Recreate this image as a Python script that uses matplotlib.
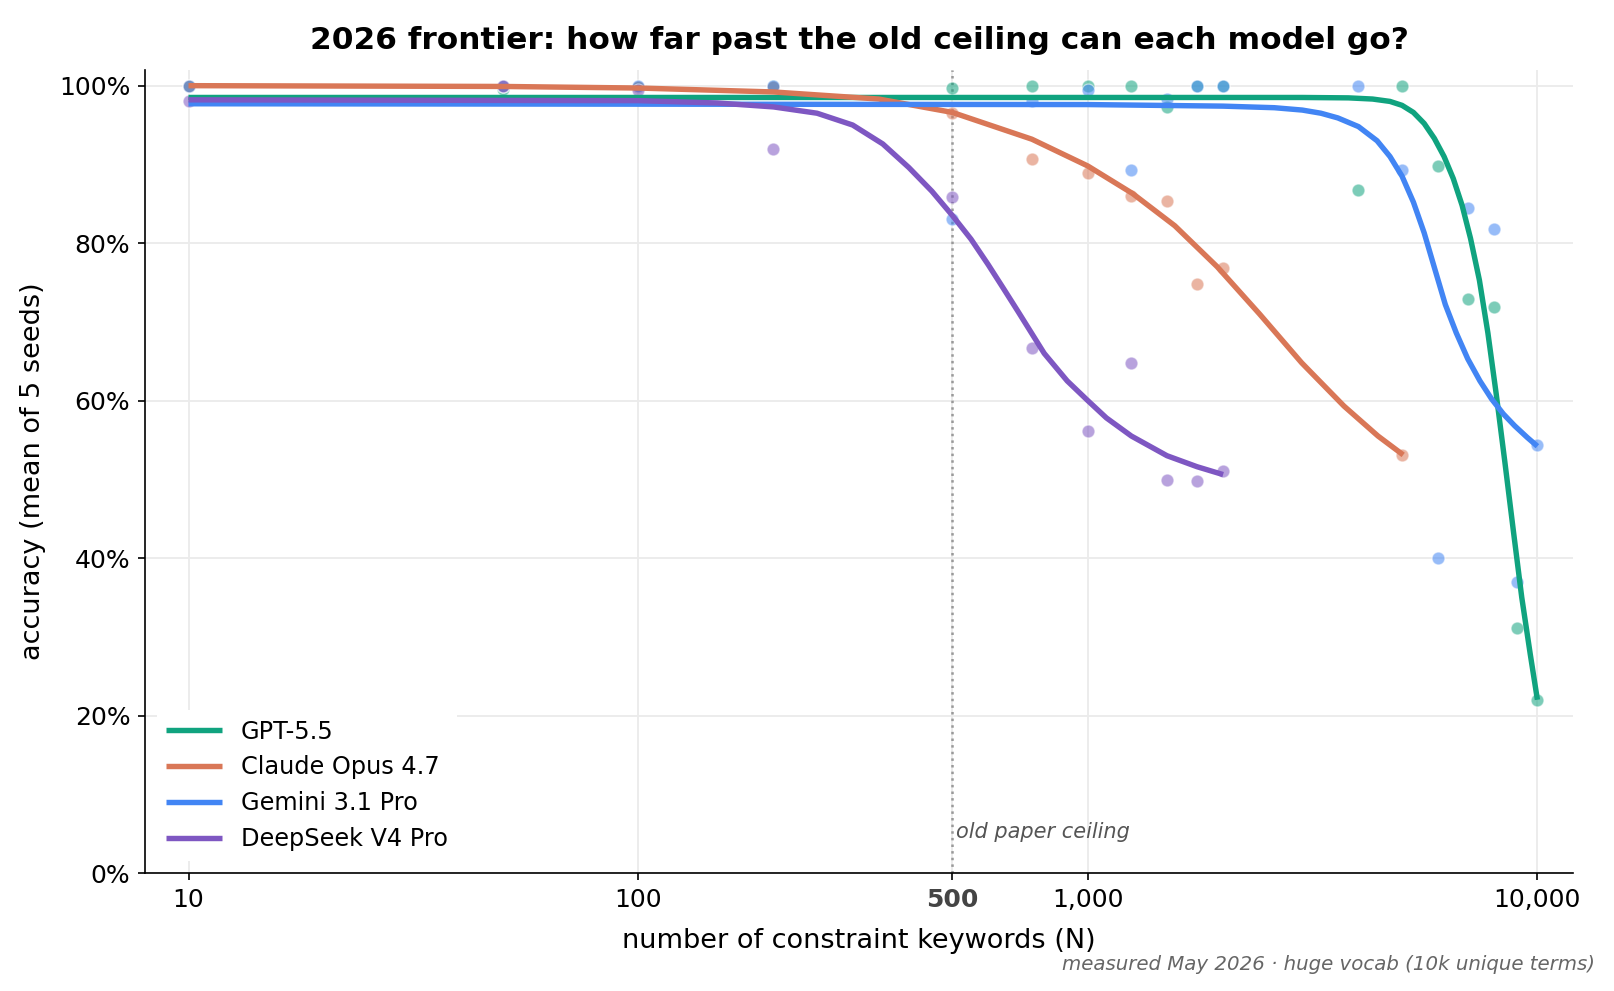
"""Keyword-constraint accuracy vs N for the 2026 frontier models."""

import matplotlib

matplotlib.use("Agg")
import matplotlib.pyplot as plt
from matplotlib.ticker import FixedLocator, FuncFormatter, NullLocator

# measured points (mean of 5 seeds, %)
n_small = [10, 50, 100, 200, 500, 750, 1000, 1250, 1500, 1750, 2000]

gpt_n = n_small + [4000, 5000, 6000, 7000, 8000, 9000, 10000]
gpt_acc = [100, 99.6, 99.8, 100, 99.7, 100, 99.9, 99.9, 97.3, 99.9, 100,
           86.7, 100, 89.8, 72.9, 71.9, 31.1, 22.0]

claude_n = n_small + [5000]
claude_acc = [100, 100, 99.8, 99.8, 96.5, 90.7, 88.9, 86.0, 85.3, 74.8, 76.9, 53.1]

gemini_n = n_small + [4000, 5000, 6000, 7000, 8000, 9000, 10000]
gemini_acc = [100, 100, 100, 100, 83.1, 98.0, 99.4, 89.3, 98.3, 99.9, 100,
              100, 89.3, 40.0, 84.4, 81.8, 37.0, 54.3]

deepseek_n = n_small
deepseek_acc = [98.0, 100, 99.5, 92.0, 85.9, 66.7, 56.2, 64.8, 49.9, 49.8, 51.0]

# fitted trend lines
gpt_fit_n = [10, 1000, 3000, 3800, 4300, 4700, 5000, 5300, 5600, 5900, 6200,
             6500, 6800, 7100, 7430, 7760, 8100, 8465, 8840, 9230, 9640, 10000]
gpt_fit = [98.5, 98.5, 98.5, 98.45, 98.3, 98.0, 97.5, 96.6, 95.2, 93.3, 91.0,
           88.2, 84.8, 80.6, 75.3, 68.6, 60.8, 52.2, 43.5, 35.0, 27.8, 22.0]

claude_fit_n = [10, 50, 100, 200, 343, 500, 751, 1000, 1258, 1562, 1940, 2410,
                2990, 3714, 4420, 5030]
claude_fit = [100, 99.9, 99.7, 99.2, 98.3, 96.6, 93.2, 89.8, 86.3, 82.2, 77.0,
              71.0, 64.8, 59.3, 55.5, 53.1]

gemini_fit_n = [10, 1000, 2000, 2600, 3000, 3300, 3600, 4000, 4400, 4700, 5000,
                5300, 5600, 5900, 6240, 6600, 7000, 7450, 7910, 8400, 8900,
                9500, 10000]
gemini_fit = [97.7, 97.6, 97.4, 97.2, 96.9, 96.5, 95.9, 94.8, 93.0, 91.0, 88.5,
              85.2, 81.3, 76.9, 72.2, 68.6, 65.3, 62.5, 60.2, 58.3, 56.8, 55.3,
              54.2]

deepseek_fit_n = [10, 100, 150, 200, 250, 300, 350, 400, 450, 500, 550, 600,
                  650, 700, 800, 900, 1000, 1100, 1250, 1500, 1750, 2000]
deepseek_fit = [98.2, 98.1, 97.8, 97.3, 96.5, 95.0, 92.6, 89.6, 86.6, 83.5,
                80.5, 77.3, 74.2, 71.3, 66.0, 62.5, 60.0, 57.8, 55.5, 53.0,
                51.6, 50.6]

models = ["GPT-5.5", "Claude Opus 4.7", "Gemini 3.1 Pro", "DeepSeek V4 Pro"]
colors = ["#10A37F", "#D97757", "#4285F4", "#7E57C2"]

x_ticks = [10, 100, 500, 1000, 10000]


def main() -> None:
    fig = plt.figure(figsize=(10.76, 6.607), dpi=150)
    ax = fig.add_axes([0.0898, 0.1191, 0.8848, 0.8103])

    points = [(gpt_n, gpt_acc), (claude_n, claude_acc),
              (gemini_n, gemini_acc), (deepseek_n, deepseek_acc)]
    fits = [(gpt_fit_n, gpt_fit), (claude_fit_n, claude_fit),
            (gemini_fit_n, gemini_fit), (deepseek_fit_n, deepseek_fit)]

    for (xs, ys), color in zip(points, colors):
        ax.scatter(xs, ys, s=38, color=color, alpha=0.55,
                   edgecolor="white", linewidth=0.6, zorder=2)
    for (xs, ys), color, name in zip(fits, colors, models):
        ax.plot(xs, ys, color=color, lw=2.6, label=name, zorder=3,
                solid_capstyle="butt", solid_joinstyle="round")

    ax.axvline(500, color="#999999", ls=":", lw=1.2, zorder=1)
    ax.text(510, 4.0, "old paper ceiling", fontsize=10, style="italic",
            color="#555555", ha="left", va="bottom")

    ax.set_xscale("log")
    ax.set_xlim(8, 12000)
    ax.set_ylim(0, 102)
    ax.xaxis.set_major_locator(FixedLocator(x_ticks))
    ax.xaxis.set_minor_locator(NullLocator())
    ax.xaxis.set_major_formatter(FuncFormatter(lambda v, _: f"{int(v):,}"))
    ax.yaxis.set_major_locator(FixedLocator([0, 20, 40, 60, 80, 100]))
    ax.yaxis.set_major_formatter(FuncFormatter(lambda v, _: f"{int(v)}%"))
    ax.tick_params(labelsize=12)
    for lab in ax.get_xticklabels():
        if lab.get_text() == "500":
            lab.set_fontweight("bold")
            lab.set_color("#444444")

    ax.grid(True, color="#EBEBEB", lw=0.9, zorder=0)
    ax.set_axisbelow(True)
    for side in ("top", "right"):
        ax.spines[side].set_visible(False)

    ax.set_xlabel("number of constraint keywords (N)", fontsize=13, labelpad=8)
    ax.set_ylabel("accuracy (mean of 5 seeds)", fontsize=13, labelpad=6)
    ax.set_title("2026 frontier: how far past the old ceiling can each model go?",
                 fontsize=15, fontweight="bold", pad=10)

    leg = ax.legend(loc="lower left", fontsize=11.5, frameon=True,
                    handlelength=2.3, borderaxespad=0.5, labelspacing=0.5)
    leg.get_frame().set_facecolor("white")
    leg.get_frame().set_edgecolor("none")
    leg.get_frame().set_alpha(1.0)

    fig.text(0.988, 0.027, "measured May 2026 · huge vocab (10k unique terms)",
             fontsize=9.5, style="italic", color="#666666", ha="right", va="center")

    fig.savefig("out.png", dpi=150)
    plt.close(fig)


if __name__ == "__main__":
    main()
